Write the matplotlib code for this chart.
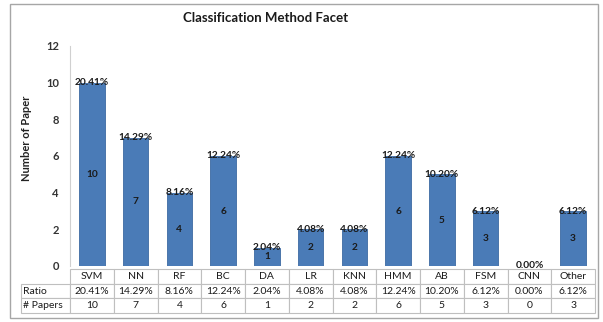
import numpy as np
import matplotlib.pyplot as plt
from matplotlib.patches import Rectangle

methods = ['SVM', 'NN', 'RF', 'BC', 'DA', 'LR', 'KNN', 'HMM', 'AB', 'FSM', 'CNN', 'Other']
papers = [10, 7, 4, 6, 1, 2, 2, 6, 5, 3, 0, 3]
ratios = ['20.41%', '14.29%', '8.16%', '12.24%', '2.04%', '4.08%', '4.08%',
          '12.24%', '10.20%', '6.12%', '0.00%', '6.12%']

plt.rcParams['font.family'] = ['Lato', 'DejaVu Sans']

W, H = 603, 322
fig = plt.figure(figsize=(W / 100, H / 100), dpi=100)

# outer chart border
fig.patches.append(Rectangle((10 / W, 1 - 318 / H), 588 / W, 314 / H,
                             transform=fig.transFigure, fill=False,
                             edgecolor='#a6a6a6', linewidth=1))

# plot area in pixels
x0, x1, ytop, ybot = 70, 595, 46, 266
aw, ah = x1 - x0, ybot - ytop
ax = fig.add_axes([x0 / W, 1 - ybot / H, aw / W, ah / H])

x = np.arange(len(methods))
ax.bar(x, papers, width=0.58, color='#4a7bb7', edgecolor='#3d6aa3', linewidth=0.6)
ax.set_xlim(-0.5, len(methods) - 0.5)
ax.set_ylim(0, 12)
ax.set_yticks(range(0, 13, 2))
ax.tick_params(axis='y', length=0, labelsize=8, pad=8, labelcolor='#333333')
for lab in ax.get_yticklabels():
    lab.set_fontweight('bold')
ax.set_xticks([])
for s in ['top', 'right', 'bottom']:
    ax.spines[s].set_visible(False)
ax.spines['left'].set_color('#d0d0d0')

for i, (v, r) in enumerate(zip(papers, ratios)):
    ax.text(i, v, r, ha='center', va='center', fontsize=7.3,
            fontweight='bold', color='#1a1a1a', zorder=20, clip_on=False)
    if v > 0:
        ax.text(i, v / 2, str(v), ha='center', va='center', fontsize=7.3,
                fontweight='bold', color='#1a1a1a')

ax.set_ylabel('Number of Paper', fontsize=8, fontweight='bold', color='#222222')
ax.yaxis.set_label_coords((32 - x0) / aw, (ybot - 138) / ah)

fig.text(266 / W, 1 - 18 / H, 'Classification Method Facet', ha='center',
         va='center', fontsize=9.5, fontweight='bold', color='#1a1a1a')

# data table under the bars
cell_text = [['Ratio'] + ratios, ['# Papers'] + [str(p) for p in papers]]
col_labels = [''] + methods
label_w = x0 - 21
col_w = aw / len(methods)
widths = [label_w] + [col_w] * len(methods)
tot = sum(widths)
tbl = ax.table(cellText=cell_text, colLabels=col_labels,
               colWidths=[w / tot for w in widths], cellLoc='center',
               bbox=[-label_w / aw, -(313 - ybot) / ah, tot / aw, (313 - 269) / ah])
tbl.set_zorder(5)
tbl.auto_set_font_size(False)
tbl.set_fontsize(7.5)
for (r, c), cell in tbl.get_celld().items():
    cell.set_edgecolor('#bfbfbf')
    cell.set_linewidth(0.8)
    cell.get_text().set_color('#1a1a1a')
    if c == 0:
        cell.get_text().set_ha('left')
        cell.PAD = 0.04
    if r == 0 and c == 0:
        cell.visible_edges = ''

fig.savefig('out.png', dpi=100)
